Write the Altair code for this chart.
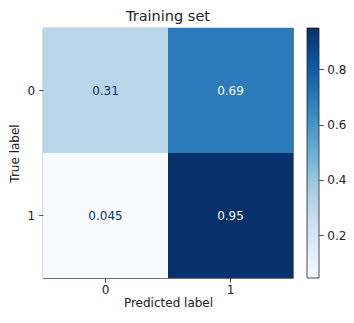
import altair as alt
import pandas as pd

true_labels = ["0", "0", "1", "1"]
pred_labels = ["0", "1", "0", "1"]
values = [0.31, 0.69, 0.045, 0.95]
cbar_ticks = [0.2, 0.4, 0.6, 0.8]

blues = ["#f7fbff", "#deebf7", "#c6dbef", "#9ecae1", "#6baed6",
         "#4292c6", "#2171b5", "#08519c", "#08306b"]

vmin, vmax = min(values), max(values)
thr = (vmin + vmax) / 2

df = pd.DataFrame({"true": true_labels, "pred": pred_labels, "value": values})
cbar_df = pd.DataFrame({"lo": [vmin], "hi": [vmax]})

FONT = "DejaVu Sans"
INK = "#222"
W, H = 250, 250
CB_GAP, CB_W = 14, 12

xenc = alt.X("pred:N", title="Predicted label",
             scale=alt.Scale(paddingInner=0, paddingOuter=0),
             axis=alt.Axis(labelAngle=0, tickSize=4.3, labelPadding=2.5,
                           titlePadding=1.5, domain=False, grid=False))
yenc = alt.Y("true:N", title="True label",
             scale=alt.Scale(paddingInner=0, paddingOuter=0),
             axis=alt.Axis(tickSize=4.3, labelPadding=4, titlePadding=5.5,
                           domain=False, grid=False))

base = alt.Chart(df)
rects = base.mark_rect().encode(
    x=xenc, y=yenc,
    color=alt.Color("value:Q", scale=alt.Scale(domain=[vmin, vmax], range=blues,
                                               interpolate="rgb"), legend=None),
)
texts = base.mark_text(fontSize=12, font=FONT).encode(
    x="pred:N", y="true:N",
    text=alt.Text("value:Q", format=".2g"),
    color=alt.condition(f"datum.value > {thr}", alt.value(blues[0]), alt.value(blues[-1])),
)
matrix = alt.layer(rects, texts)

stops = [{"offset": i / (len(blues) - 1), "color": c} for i, c in enumerate(blues)]
grad = {"gradient": "linear", "x1": 0, "y1": 1, "x2": 0, "y2": 0, "stops": stops}

cbar = alt.Chart(cbar_df).mark_rect(stroke=INK, strokeWidth=0.8).encode(
    y=alt.Y("lo:Q", scale=alt.Scale(domain=[vmin, vmax], nice=False, zero=False),
            axis=alt.Axis(orient="right", offset=CB_GAP + CB_W, values=cbar_ticks,
                          tickSize=4.3, labelPadding=3.5, domain=False, grid=False,
                          title=None)),
    y2="hi:Q",
    x=alt.value(W + CB_GAP), x2=alt.value(W + CB_GAP + CB_W),
    fill=alt.value(grad),
)

chart = alt.layer(matrix, cbar).resolve_scale(y="independent").properties(
    width=W, height=H, title="Training set",
    autosize=alt.AutoSizeParams(type="none"),
    padding={"left": 35, "top": 20, "right": 53, "bottom": 33},
).configure_view(stroke=INK, strokeWidth=0.8).configure_axis(
    labelFont=FONT, titleFont=FONT, labelFontSize=12, titleFontSize=12,
    titleFontWeight="normal", labelColor=INK, titleColor=INK,
    tickColor=INK, tickWidth=0.8
).configure_title(font=FONT, fontSize=14.5, fontWeight="normal", color=INK, offset=3)

chart.save("out.html", embed_options={"renderer": "svg", "actions": False})
